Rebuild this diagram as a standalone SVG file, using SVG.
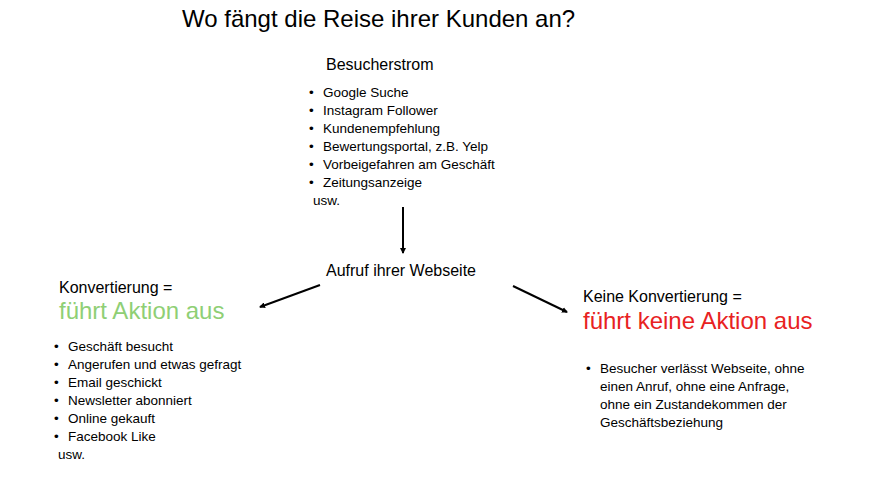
<svg xmlns="http://www.w3.org/2000/svg" width="896" height="489" viewBox="0 0 896 489">
<style>
text{font-family:"Liberation Sans",Arial,sans-serif;fill:#000}
.l{font-size:13.5px}
.h{font-size:16px}
.c{stroke:#000;stroke-width:2;fill:none;marker-end:url(#a)}
</style>
<defs><marker id="a" markerWidth="6" markerHeight="6" refX="5" refY="3" orient="auto" markerUnits="userSpaceOnUse"><path d="M0,0L6,3L0,6z" fill="#000"/></marker></defs>
<rect width="896" height="489" fill="#fff"/>
<text x="182" y="27" font-size="24">Wo fängt die Reise ihrer Kunden an?</text>
<g id="besucherstrom">
<text x="326" y="70" class="h">Besucherstrom</text>
<g class="l">
<text x="309" y="97">•</text><text x="323" y="97">Google Suche</text>
<text x="309" y="115">•</text><text x="323" y="115">Instagram Follower</text>
<text x="309" y="133">•</text><text x="323" y="133">Kundenempfehlung</text>
<text x="309" y="151">•</text><text x="323" y="151">Bewertungsportal, z.B. Yelp</text>
<text x="309" y="169">•</text><text x="323" y="169">Vorbeigefahren am Geschäft</text>
<text x="309" y="187">•</text><text x="323" y="187">Zeitungsanzeige</text>
<text x="313" y="205">usw.</text>
</g></g>
<g id="aufruf"><text x="326" y="276" class="h">Aufruf ihrer Webseite</text></g>
<g id="konvertierung">
<text x="59" y="293" class="h">Konvertierung =</text>
<text x="59" y="319" font-size="24" style="fill:#8fcf75">führt Aktion aus</text>
<g class="l">
<text x="54" y="351">•</text><text x="68" y="351">Geschäft besucht</text>
<text x="54" y="369">•</text><text x="68" y="369">Angerufen und etwas gefragt</text>
<text x="54" y="387">•</text><text x="68" y="387">Email geschickt</text>
<text x="54" y="405">•</text><text x="68" y="405">Newsletter abonniert</text>
<text x="54" y="423">•</text><text x="68" y="423">Online gekauft</text>
<text x="54" y="441">•</text><text x="68" y="441">Facebook Like</text>
<text x="58" y="459">usw.</text>
</g></g>
<g id="keine">
<text x="583" y="302" class="h">Keine Konvertierung =</text>
<text x="583" y="329" font-size="24" style="fill:#e8221f">führt keine Aktion aus</text>
<g class="l">
<text x="586" y="373">•</text><text x="600" y="373">Besucher verlässt Webseite, ohne</text>
<text x="600" y="391">einen Anruf, ohne eine Anfrage,</text>
<text x="600" y="409">ohne ein Zustandekommen der</text>
<text x="600" y="427">Geschäftsbeziehung</text>
</g></g>
<g id="connectors">
<line class="c" x1="403" y1="207" x2="403" y2="253"/>
<line class="c" x1="320" y1="285" x2="260" y2="307"/>
<line class="c" x1="513" y1="286" x2="567" y2="312"/>
</g>
</svg>
